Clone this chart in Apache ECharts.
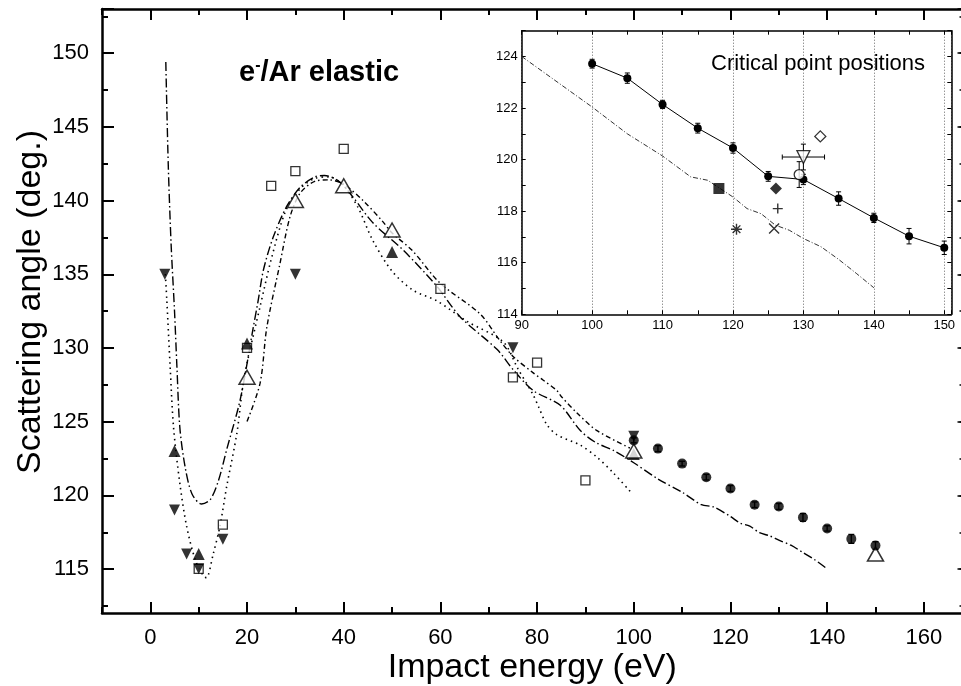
<!DOCTYPE html>
<html><head><meta charset="utf-8">
<script src="https://cdn.jsdelivr.net/npm/echarts@6/dist/echarts.min.js"></script>
<style>html,body{margin:0;padding:0;background:#fff}#c{width:961px;height:686px}</style>
</head><body><div id="c"></div>
<script>
// ---------- main plot data ----------
const curveDottedX = [3.1,3.4,4.1,4.8,6.1,7.5,9.3,11,11.6,13,14.4,15.8,17.9,19.2,20.3,22.7,25,28,31,34,37,40,43,46,50,54.4,59.2,65.5,73,76,79.2,80.3,82,84.1,88.9,92.3,95.8,99.4];
const curveDottedY = [135,133.3,128.7,124.6,120.8,117.9,115.6,114.5,114.4,116,117.9,120.6,124.2,127.6,129.4,132.8,136,139.3,140.8,141.5,141.6,141,139.5,137.3,135.2,133.9,133.2,131.8,130.4,128.6,126.8,126.0,124.8,124.1,123.4,122.6,121.5,120.2];
const curveDashDotX = [3.2,3.7,4.3,5,5.5,6.1,7.2,8.6,10.6,12.4,14.1,15.8,18.6,21.3,22.3,23.4,25.4,28.2,31,34,36,39,42,46,52.4,59.2,64.1,71.7,75.1,79.2,84.8,88.9,92,96,100,105,110,114,116.5,120,122,124,126,128,130,132.5,135,137.5,140];
const curveDashDotY = [149.4,142.5,137,132.5,128.7,124.6,121.9,120.1,119.4,119.7,121,123.1,126.5,131.4,133.2,135.3,137.5,139.6,140.9,141.6,141.7,141.3,140.2,138.5,136.6,134.2,132.1,129.9,128.5,127.1,126.1,124.4,123.6,123.0,122.2,121.1,120.2,119.35,119.2,118.55,118.1,117.9,117.45,117.25,116.95,116.6,116.1,115.6,115.0];
const curveDashedX = [20,22.7,24.1,26.8,28.9,31,34,37,40,44,48,50,54.2,59.9,68.2,72.3,75.1,79.2,81.3,84.1,85,88.2,92.3,99.2];
const curveDashedY = [125,127.6,131.4,135.7,138.9,140.5,141.3,141.4,141.1,140,138.6,137.8,136.6,134.4,132.3,130.5,129.4,128.3,127.8,127.1,126.7,125.6,124.4,123.2];

const openSquareX = [10,15,20,25,30,40,60,75,80,90];
const openSquareY = [115,118,130,141,142,143.5,134,128,129,121];
const downTriX = [3,5,7.5,10,15,30,75,100];
const downTriY = [135,119,116,115,117,135,130,124];
const upTriX = [5,10,20,50,100];
const upTriY = [123,116,130.3,136.5,122.8];
const openTriX = [20,30,40,50,100,150];
const openTriY = [128,140,141,138,123,116];

// critical points (filled circles with error bars), used in main plot and inset
const critX = [100,105,110,115,120,125,130,135,140,145,150];
const critY = [123.72,123.16,122.14,121.22,120.45,119.35,119.23,118.49,117.74,117.03,116.58];
const critErr = [0.17,0.2,0.16,0.19,0.2,0.19,0.2,0.26,0.18,0.3,0.26];

// ---------- inset data ----------
const insetLineX = [90,100,105,110,114,116.4,120,122,124,126,128,130,132.5,135,137.5,140];
const insetLineY = [124,122.04,121.0,120.14,119.33,119.2,118.55,118.1,117.9,117.46,117.26,116.94,116.62,116.13,115.59,115.03];
const ptFilledSquare = [118.0,118.88];
const ptAsterisk = [120.5,117.3];
const ptFilledDiamond = [126.1,118.88];
const ptPlus = [126.36,118.1];
const ptCross = [125.84,117.33];
const ptOpenCircle = [129.4,119.42];
const ptOpenCircleErr = 0.5;
const ptOpenDownTri = [130.0,120.1];
const ptOpenDownTriErrY = 0.5;
const ptOpenDownTriErrX = 3;
const ptOpenDiamond = [132.4,120.9];

// tick labels
const mainXLabelStep = 20;
const mainYLabelStep = 5;
const insetXLabelStep = 10;
const insetYLabelStep = 2;

const zip = (xs, ys) => xs.map((x, i) => [x, ys[i]]);
const FONT = 'Liberation Sans';
const BLACK = '#000';

function errRender(capW, lw) {
  return function (params, api) {
    const x = api.value(0), y = api.value(1), ey = api.value(2), ex = api.value(3) || 0;
    const ch = [];
    const st = { stroke: BLACK, lineWidth: lw };
    if (ey) {
      const t = api.coord([x, y + ey]), b = api.coord([x, y - ey]);
      ch.push({ type: 'line', shape: { x1: t[0], y1: t[1], x2: b[0], y2: b[1] }, style: st });
      ch.push({ type: 'line', shape: { x1: t[0] - capW, y1: t[1], x2: t[0] + capW, y2: t[1] }, style: st });
      ch.push({ type: 'line', shape: { x1: b[0] - capW, y1: b[1], x2: b[0] + capW, y2: b[1] }, style: st });
    }
    if (ex) {
      const l = api.coord([x - ex, y]), r = api.coord([x + ex, y]);
      ch.push({ type: 'line', shape: { x1: l[0], y1: l[1], x2: r[0], y2: r[1] }, style: st });
      ch.push({ type: 'line', shape: { x1: l[0], y1: l[1] - capW, x2: l[0], y2: l[1] + capW }, style: st });
      ch.push({ type: 'line', shape: { x1: r[0], y1: r[1] - capW, x2: r[0], y2: r[1] + capW }, style: st });
    }
    return { type: 'group', children: ch };
  };
}

const NB = { outerBoundsMode: 'none', containLabel: false };
const G0 = { left: 102, top: 9, width: 860.5, height: 604 };
const inset = { left: 521.7, top: 30.7, width: 429.6, height: 283.6 };

const tickAxisBase = (extra) => Object.assign({
  type: 'value', splitLine: { show: false },
  axisLine: { show: false, onZero: false },
  axisLabel: { show: false }
}, extra);

const option = {
  animation: false,
  backgroundColor: '#fff',
  textStyle: { fontFamily: FONT },
  title: [
    {
      left: 234, top: 53,
      text: '{a|e}{s|-}{a|/Ar elastic}',
      textStyle: {
        rich: {
          a: { fontFamily: FONT, fontWeight: 'bold', fontSize: 29, color: BLACK },
          s: { fontFamily: FONT, fontWeight: 'bold', fontSize: 16, color: BLACK, verticalAlign: 'top', padding: [0, 0, 14, 0] }
        }
      }
    },
    {
      left: 706, top: 48,
      text: 'Critical point positions',
      textStyle: { fontFamily: FONT, fontWeight: 'normal', fontSize: 22, color: BLACK }
    }
  ],
  grid: [
    Object.assign({}, NB, G0),                                           // 0 main
    Object.assign({}, NB, { left: 150.3, top: 9, width: 812.2, height: 604 }), // 1 x major ticks
    Object.assign({}, NB, { left: 102, top: 9, width: 860.5, height: 597 }),   // 2 y minor ticks
    Object.assign({}, NB, { left: 102, top: 9, width: 860.5, height: 560 }),   // 3 y major ticks
    Object.assign({ show: true, backgroundColor: '#fff', borderWidth: 0, z: 5 }, NB, inset), // 4 inset
    Object.assign({}, NB, inset)                                         // 5 inset gridlines
  ],
  xAxis: [
    tickAxisBase({ gridIndex: 0, position: 'bottom', min: -10, max: 168, interval: 10,
      axisLine: { show: true, onZero: false, lineStyle: { color: BLACK, width: 2.5 } },
      axisTick: { show: true, inside: true, length: 6, lineStyle: { color: BLACK, width: 2 } },
      name: 'Impact energy (eV)', nameLocation: 'middle', nameGap: 38,
      nameTextStyle: { fontFamily: FONT, fontSize: 34, color: BLACK } }),
    tickAxisBase({ gridIndex: 0, position: 'top', min: -10, max: 168, interval: 10,
      axisLine: { show: true, onZero: false, lineStyle: { color: BLACK, width: 2.5 } },
      axisTick: { show: true, inside: true, length: 6, lineStyle: { color: BLACK, width: 2 } } }),
    tickAxisBase({ gridIndex: 1, position: 'bottom', min: 0, max: 168, interval: 20,
      axisTick: { show: true, inside: true, length: 11, lineStyle: { color: BLACK, width: 2 } },
      axisLabel: { show: true, fontFamily: FONT, fontSize: 22, color: BLACK, margin: 14,
        formatter: v => (v % mainXLabelStep === 0 ? String(v) : '') } }),
    tickAxisBase({ gridIndex: 1, position: 'top', min: 0, max: 168, interval: 20,
      axisTick: { show: true, inside: true, length: 11, lineStyle: { color: BLACK, width: 2 } } }),
    { type: 'value', gridIndex: 2, min: -10, max: 168, show: false },
    { type: 'value', gridIndex: 3, min: -10, max: 168, show: false },
    tickAxisBase({ gridIndex: 4, position: 'bottom', min: 90, max: 151, interval: 5, z: 6,
      axisLine: { show: true, onZero: false, lineStyle: { color: BLACK, width: 1.5 } },
      axisTick: { show: true, inside: true, length: 4, lineStyle: { color: BLACK, width: 1 } },
      axisLabel: { show: true, fontFamily: FONT, fontSize: 13, color: BLACK, margin: 5,
        formatter: v => (v % insetXLabelStep === 0 ? String(v) : '') } }),
    tickAxisBase({ gridIndex: 4, position: 'top', min: 90, max: 151, interval: 5, z: 6,
      axisLine: { show: true, onZero: false, lineStyle: { color: BLACK, width: 1.5 } },
      axisTick: { show: true, inside: true, length: 4, lineStyle: { color: BLACK, width: 1 } } }),
    tickAxisBase({ gridIndex: 5, position: 'bottom', min: 90, max: 151, interval: 10, z: 6,
      axisTick: { show: false },
      splitLine: { show: true, lineStyle: { color: '#666', width: 1, type: [1, 2] } } })
  ],
  yAxis: [
    tickAxisBase({ gridIndex: 0, position: 'left', min: 112, max: 153,
      axisLine: { show: true, onZero: false, lineStyle: { color: BLACK, width: 2.5 } },
      axisTick: { show: false },
      name: 'Scattering angle (deg.)', nameLocation: 'middle', nameGap: 54, nameRotate: 90,
      nameTextStyle: { fontFamily: FONT, fontSize: 34, color: BLACK, padding: [0, 0, 0, 18] } }),
    tickAxisBase({ gridIndex: 0, position: 'right', min: 112, max: 153,
      axisLine: { show: false, onZero: false },
      axisTick: { show: false } }),
    { type: 'value', gridIndex: 1, min: 112, max: 153, show: false },
    tickAxisBase({ gridIndex: 2, position: 'left', min: 112.5, max: 153, interval: 2.5,
      axisTick: { show: true, inside: true, length: 6, lineStyle: { color: BLACK, width: 2 } } }),
    tickAxisBase({ gridIndex: 2, position: 'right', min: 112.5, max: 153, interval: 2.5,
      axisTick: { show: true, inside: true, length: 3, lineStyle: { color: BLACK, width: 1.5 } } }),
    tickAxisBase({ gridIndex: 3, position: 'left', min: 115, max: 153, interval: 5,
      axisTick: { show: true, inside: true, length: 12, lineStyle: { color: BLACK, width: 2 } },
      axisLabel: { show: true, fontFamily: FONT, fontSize: 22, color: BLACK, margin: 13,
        formatter: v => (v % mainYLabelStep === 0 ? String(v) : '') } }),
    tickAxisBase({ gridIndex: 3, position: 'right', min: 115, max: 153, interval: 5,
      axisTick: { show: true, inside: true, length: 5, lineStyle: { color: BLACK, width: 1.5 } } }),
    tickAxisBase({ gridIndex: 4, position: 'left', min: 114, max: 125, interval: 1, z: 6,
      axisLine: { show: true, onZero: false, lineStyle: { color: BLACK, width: 1.5 } },
      axisTick: { show: true, inside: true, length: 4, lineStyle: { color: BLACK, width: 1 } },
      axisLabel: { show: true, fontFamily: FONT, fontSize: 13, color: BLACK, margin: 4,
        formatter: v => (v % insetYLabelStep === 0 ? String(v) : '') } }),
    tickAxisBase({ gridIndex: 4, position: 'right', min: 114, max: 125, interval: 1, z: 6,
      axisLine: { show: true, onZero: false, lineStyle: { color: BLACK, width: 1.5 } },
      axisTick: { show: true, inside: true, length: 4, lineStyle: { color: BLACK, width: 1 } } }),
    { type: 'value', gridIndex: 5, min: 114, max: 125, show: false }
  ],
  series: [
    { type: 'line', xAxisIndex: 0, yAxisIndex: 0, data: zip(curveDottedX, curveDottedY), smooth: 0.3,
      showSymbol: false, lineStyle: { color: BLACK, width: 1.6, type: [1.5, 4] } },
    { type: 'line', xAxisIndex: 0, yAxisIndex: 0, data: zip(curveDashDotX, curveDashDotY), smooth: 0.3,
      showSymbol: false, lineStyle: { color: BLACK, width: 1.4, type: [9, 3, 1.5, 3] } },
    { type: 'line', xAxisIndex: 0, yAxisIndex: 0, data: zip(curveDashedX, curveDashedY), smooth: 0.3,
      showSymbol: false, lineStyle: { color: BLACK, width: 1.4, type: [5, 3, 1.5, 3] } },
    { type: 'scatter', xAxisIndex: 0, yAxisIndex: 0, data: zip(openSquareX, openSquareY), symbol: 'rect', symbolSize: 9,
      itemStyle: { color: '#fff', borderColor: BLACK, borderWidth: 1.3 }, z: 3 },
    { type: 'scatter', xAxisIndex: 0, yAxisIndex: 0, data: zip(downTriX, downTriY), symbol: 'triangle', symbolRotate: 180, symbolSize: 11,
      itemStyle: { color: BLACK }, z: 3 },
    { type: 'scatter', xAxisIndex: 0, yAxisIndex: 0, data: zip(upTriX, upTriY), symbol: 'triangle', symbolSize: 12,
      itemStyle: { color: BLACK }, z: 3 },
    { type: 'scatter', xAxisIndex: 0, yAxisIndex: 0, data: zip(openTriX, openTriY), symbol: 'triangle', symbolSize: [16, 14],
      itemStyle: { color: '#fff', borderColor: BLACK, borderWidth: 1.5 }, z: 4 },
    { type: 'custom', xAxisIndex: 0, yAxisIndex: 0, renderItem: errRender(3, 1.4), z: 4,
      data: critX.map((x, i) => [x, critY[i], critErr[i]]) },
    { type: 'scatter', xAxisIndex: 0, yAxisIndex: 0, data: zip(critX, critY), symbol: 'circle', symbolSize: 10,
      itemStyle: { color: BLACK }, z: 5 },
    { type: 'line', xAxisIndex: 6, yAxisIndex: 7, data: zip(insetLineX, insetLineY), z: 7,
      showSymbol: false, lineStyle: { color: '#333', width: 1, type: [5, 2, 1, 2] } },
    { type: 'custom', xAxisIndex: 6, yAxisIndex: 7, renderItem: errRender(2.5, 1), z: 8,
      data: critX.map((x, i) => [x, critY[i], critErr[i]]) },
    { type: 'line', xAxisIndex: 6, yAxisIndex: 7, data: zip(critX, critY), z: 8,
      symbol: 'circle', symbolSize: 8, itemStyle: { color: BLACK }, lineStyle: { color: BLACK, width: 1 } },
    { type: 'custom', xAxisIndex: 6, yAxisIndex: 7, renderItem: errRender(2.5, 1), z: 8,
      data: [[ptOpenCircle[0], ptOpenCircle[1], ptOpenCircleErr, 0],
             [ptOpenDownTri[0], ptOpenDownTri[1], ptOpenDownTriErrY, ptOpenDownTriErrX]] },
    { type: 'scatter', xAxisIndex: 6, yAxisIndex: 7, data: [ptFilledSquare], symbol: 'rect', symbolSize: 11,
      itemStyle: { color: BLACK }, z: 9 },
    { type: 'scatter', xAxisIndex: 6, yAxisIndex: 7, data: [ptFilledDiamond], symbol: 'diamond', symbolSize: 12,
      itemStyle: { color: BLACK }, z: 9 },
    { type: 'scatter', xAxisIndex: 6, yAxisIndex: 7, data: [ptAsterisk], symbol: 'path://M5,0L5,10M0,5L10,5M1.5,1.5L8.5,8.5M8.5,1.5L1.5,8.5',
      symbolSize: 11, itemStyle: { color: 'none', borderColor: BLACK, borderWidth: 1.4 }, z: 9 },
    { type: 'scatter', xAxisIndex: 6, yAxisIndex: 7, data: [ptPlus], symbol: 'path://M5,0L5,10M0,5L10,5',
      symbolSize: 10, itemStyle: { color: 'none', borderColor: BLACK, borderWidth: 1.4 }, z: 9 },
    { type: 'scatter', xAxisIndex: 6, yAxisIndex: 7, data: [ptCross], symbol: 'path://M0,0L10,10M10,0L0,10',
      symbolSize: 10, itemStyle: { color: 'none', borderColor: BLACK, borderWidth: 1.4 }, z: 9 },
    { type: 'scatter', xAxisIndex: 6, yAxisIndex: 7, data: [ptOpenCircle], symbol: 'circle', symbolSize: 10,
      itemStyle: { color: '#fff', borderColor: BLACK, borderWidth: 1.3 }, z: 9 },
    { type: 'scatter', xAxisIndex: 6, yAxisIndex: 7, data: [ptOpenDownTri], symbol: 'triangle', symbolRotate: 180, symbolSize: 13,
      itemStyle: { color: '#fff', borderColor: BLACK, borderWidth: 1.3 }, z: 9 },
    { type: 'scatter', xAxisIndex: 6, yAxisIndex: 7, data: [ptOpenDiamond], symbol: 'diamond', symbolSize: 11,
      itemStyle: { color: '#fff', borderColor: BLACK, borderWidth: 1.3 }, z: 9 }
  ]
};

const chart = echarts.init(document.getElementById('c'), null, { renderer: 'canvas' });
chart.setOption(option);
</script>
</body></html>
